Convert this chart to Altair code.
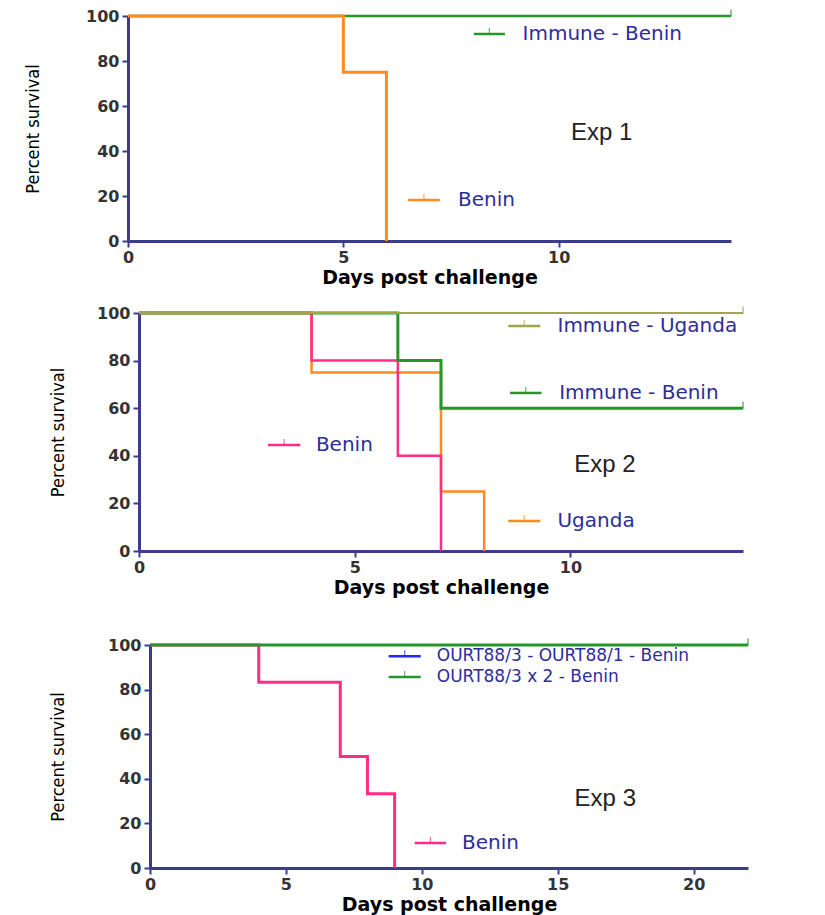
import altair as alt
import pandas as pd

# ---------------- data ----------------
# Experiment 1
exp1_series = ["Immune - Benin", "Benin"]
exp1_days = [[0, 14], [0, 5, 6]]
exp1_surv = [[100, 100], [100, 75, 0]]
exp1_censor = [True, False]

# Experiment 2
exp2_series = ["Uganda", "Benin", "Immune - Benin", "Immune - Uganda"]
exp2_days = [[0, 4, 7, 8], [0, 4, 6, 7], [0, 6, 7, 14], [0, 14]]
exp2_surv = [[100, 75, 25, 0], [100, 80, 40, 0], [100, 80, 60, 60], [100, 100]]
exp2_censor = [False, False, True, True]

# Experiment 3
exp3_series = ["Benin", "OURT88/3 - OURT88/1 - Benin", "OURT88/3 x 2 - Benin"]
exp3_days = [[0, 4, 7, 8, 9], [0, 22], [0, 22]]
exp3_surv = [[100, 83.3, 50, 33.3, 0], [100, 100], [100, 100]]
exp3_censor = [False, False, True]

y_ticks = [0, 20, 40, 60, 80, 100]
x_ticks_12 = [0, 5, 10]
x_ticks_3 = [0, 5, 10, 15, 20]

# ---------------- styling ----------------
GREEN = "#26952A"
ORANGE = "#FF8A1E"
PINK = "#FF2D87"
OLIVE = "#A4A44C"
BLUE = "#2626FF"
AXIS = "#3C3C8C"
LEG_TXT = "#2D2D9A"
NARROW = "'Liberation Sans Narrow', 'DejaVu Sans Condensed', 'Roboto Condensed', 'Liberation Sans', sans-serif"

exp1_colors = [GREEN, ORANGE]
exp1_widths = [2.5, 3]
exp2_colors = [ORANGE, PINK, GREEN, OLIVE]
exp2_widths = [2.5, 2.5, 3, 2]
exp3_colors = [PINK, BLUE, GREEN]
exp3_widths = [3, 2, 3]

# in-plot legend annotations: (label, color, line x1, line x2, text x, y, font size)
exp1_legend = [("Immune - Benin", GREEN, 8.03, 8.75, 9.16, 92, 20),
               ("Benin", ORANGE, 6.5, 7.24, 7.66, 18.2, 20)]
exp2_legend = [("Immune - Uganda", OLIVE, 8.56, 9.30, 9.70, 94.5, 20),
               ("Immune - Benin", GREEN, 8.6, 9.33, 9.74, 66.4, 20),
               ("Benin", PINK, 2.99, 3.74, 4.1, 44.5, 20),
               ("Uganda", ORANGE, 8.56, 9.30, 9.70, 12.6, 20)]
exp3_legend = [("OURT88/3 - OURT88/1 - Benin", BLUE, 8.78, 9.96, 10.55, 95.0, 17),
               ("OURT88/3 x 2 - Benin", GREEN, 8.78, 9.96, 10.55, 85.6, 17),
               ("Benin", PINK, 9.74, 10.89, 11.48, 11.2, 20)]


def panel(series, days, surv, censor, colors, widths, legend, label, label_pos,
          xmax, xticks, W, H, shift, title_dist):
    xs = alt.Scale(domain=[0, xmax], range=[shift, shift + W], nice=False, zero=False)
    ys = alt.Scale(domain=[0, 100], nice=False)
    xaxis = alt.Axis(values=xticks, title="Days post challenge", grid=False,
                     domainColor=AXIS, domainWidth=3, tickColor=AXIS, tickWidth=2,
                     tickSize=6, labelFont="DejaVu Sans", labelFontWeight="bold",
                     labelFontSize=16, labelColor="#333333", labelPadding=2,
                     labelFlush=False, titleFont="DejaVu Sans", titleFontWeight="bold",
                     titleFontSize=19, titleColor="#000000", titlePadding=3, format="d")
    yaxis = alt.Axis(values=y_ticks, title="Percent survival", grid=False,
                     domainColor=AXIS, domainWidth=3, tickColor=AXIS, tickWidth=2,
                     tickSize=6, labelFont="DejaVu Sans", labelFontWeight="bold",
                     labelFontSize=16, labelColor="#333333", labelPadding=3,
                     titleFont=NARROW, titleFontWeight="normal",
                     titleFontSize=18, titleColor="#000000", titleX=-title_dist,
                     titleY=H / 2, titleBaseline="middle", titleAngle=-90,
                     titleAlign="center", offset=-shift, format="d")
    X = lambda f: alt.X(f, type="quantitative", scale=xs, axis=xaxis)
    Y = lambda f: alt.Y(f, type="quantitative", scale=ys, axis=yaxis)

    layers = []
    for name, d, s, cen, c, w in zip(series, days, surv, censor, colors, widths):
        df = pd.DataFrame({"day": d, "surv": s, "series": name})
        layers.append(alt.Chart(df).mark_line(interpolate="step-after", color=c,
                                              strokeWidth=w, strokeCap="butt")
                      .encode(x=X("day"), y=Y("surv")))
        if cen:
            end = pd.DataFrame({"day": [d[-1]], "surv": [s[-1]]})
            layers.append(alt.Chart(end).mark_tick(orient="vertical", size=7,
                                                   thickness=1.5, color=c, yOffset=-3)
                          .encode(x=X("day"), y=Y("surv")))
    # legend glyphs and labels
    for (txt, c, x1, x2, xt, yy, fs) in legend:
        ldf = pd.DataFrame({"x1": [x1], "x2": [x2], "xm": [(x1 + x2) / 2],
                            "xt": [xt], "y": [yy], "t": [txt]})
        layers.append(alt.Chart(ldf).mark_rule(color=c, strokeWidth=2.5)
                      .encode(x=X("x1"), x2="x2", y=Y("y")))
        layers.append(alt.Chart(ldf).mark_tick(orient="vertical", size=6,
                                               thickness=1.2, color=c, yOffset=-3)
                      .encode(x=X("xm"), y=Y("y")))
        layers.append(alt.Chart(ldf).mark_text(align="left", baseline="middle",
                                               font="DejaVu Sans", fontSize=fs,
                                               color=LEG_TXT)
                      .encode(x=X("xt"), y=Y("y"), text="t:N"))
    edf = pd.DataFrame({"x": [label_pos[0]], "y": [label_pos[1]], "t": [label]})
    layers.append(alt.Chart(edf).mark_text(align="center", baseline="middle",
                                           font="Liberation Sans", fontSize=24,
                                           color="#222222")
                  .encode(x=X("x"), y=Y("y"), text="t:N"))
    return alt.layer(*layers).properties(width=shift + W, height=H)


p1 = panel(exp1_series, exp1_days, exp1_surv, exp1_censor, exp1_colors, exp1_widths,
           exp1_legend, "Exp 1", (11.0, 48), 14, x_ticks_12, 603, 225, 0, 95)
p2 = panel(exp2_series, exp2_days, exp2_surv, exp2_censor, exp2_colors, exp2_widths,
           exp2_legend, "Exp 2", (10.8, 36), 14, x_ticks_12, 604, 238, 11, 81)
p3 = panel(exp3_series, exp3_days, exp3_surv, exp3_censor, exp3_colors, exp3_widths,
           exp3_legend, "Exp 3", (16.75, 31), 22, x_ticks_3, 598, 223, 22, 92)

chart = alt.vconcat(alt.vconcat(p1, p2, spacing=18), p3, spacing=40).properties(
    padding={"left": 15, "top": 0, "right": 5, "bottom": 5},
    background="white",
).configure_view(stroke=None)

chart.save("out.html", embed_options={"renderer": "svg", "actions": False})
